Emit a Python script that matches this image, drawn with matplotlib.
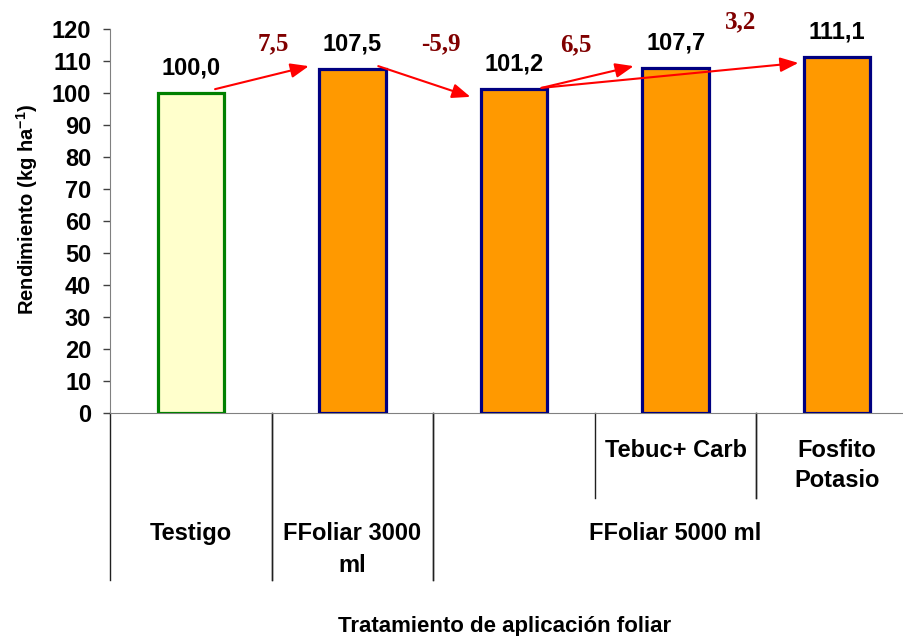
import numpy as np
import matplotlib.pyplot as plt

# ------------------------------------------------------------------ DATA
values = [100.0, 107.5, 101.2, 107.7, 111.1]
inner_labels = ['', '', '', 'Tebuc+ Carb', 'Fosfito\nPotasio']
# outer groups: (label, first bar, last bar)
outer_groups = [('Testigo', 0, 0), ('FFoliar 3000\nml', 1, 1),
                ('FFoliar 5000 ml', 2, 4)]
# differences between treatments (from bar, to bar)
arrow_pairs = [(0, 1), (1, 2), (2, 3), (2, 4)]
diff_labels = ['7,5', '-5,9', '6,5', '3,2']

fill_colors = ['#FFFFCC', '#FF9900', '#FF9900', '#FF9900', '#FF9900']
edge_colors = ['#008000', '#000080', '#000080', '#000080', '#000080']

# ------------------------------------------------------------------ FIGURE
plt.rcParams['font.family'] = ['Liberation Sans', 'DejaVu Sans']
plt.rcParams['mathtext.fontset'] = 'custom'
plt.rcParams['mathtext.rm'] = 'Liberation Sans:bold'
plt.rcParams['mathtext.bf'] = 'Liberation Sans:bold'
fs = 17

fig = plt.figure(figsize=(9.04, 6.36), dpi=100)
fig.patch.set_facecolor('white')
ax = fig.add_axes([0.1217, 0.3506, 0.8938, 0.6038])

x = np.arange(len(values))
ax.bar(x, values, width=0.41, color=fill_colors, edgecolor=edge_colors,
       linewidth=2.3, zorder=3)

ax.set_xlim(-0.5, len(values) - 0.5)
ax.set_ylim(0, 120)
ax.set_yticks(np.arange(0, 121, 10))
ax.tick_params(axis='y', direction='out', length=5, width=1, pad=8.5,
               labelsize=fs, color='#404040')
for lab in ax.get_yticklabels():
    lab.set_fontweight('bold')
ax.set_xticks([])

for s in ['top', 'right']:
    ax.spines[s].set_visible(False)
ax.spines['left'].set_color('#808080')
ax.spines['bottom'].set_color('#808080')

# value labels
for i, v in enumerate(values):
    ax.annotate(f'{v:.1f}'.replace('.', ','), (i, v), xytext=(0, 13.5),
                textcoords='offset points', ha='center', va='baseline',
                fontsize=fs, fontweight='bold')

# ---------------------------------------------------------- DIFF ARROWS
start_dx = [0.15, 0.16, 0.17, 0.17]
start_dy = [1.2, 0.9, 0.4, 0.4]
end_dx = [-0.27, -0.27, -0.26, -0.24]
end_dy = [0.9, -2.4, 0.7, -1.7]
label_pos = [(0.51, 115.3), (1.55, 115.3), (2.38, 115.0), (3.40, 122.2)]

for k, (a, b) in enumerate(arrow_pairs):
    ax.annotate('', xy=(b + end_dx[k], values[b] + end_dy[k]),
                xytext=(a + start_dx[k], values[a] + start_dy[k]),
                arrowprops=dict(arrowstyle='-|>,head_length=0.55,head_width=0.22',
                                mutation_scale=20, color='#FF0000', lw=1.5,
                                shrinkA=0, shrinkB=0),
                annotation_clip=False, zorder=5)
    ax.text(label_pos[k][0], label_pos[k][1], diff_labels[k],
            ha='center', va='center', fontsize=18, fontweight='bold',
            color='#800000', family=['Liberation Serif', 'DejaVu Serif'],
            clip_on=False)

# ---------------------------------------------------- CATEGORY LABELS
trans = ax.get_xaxis_transform()
inner_bottom = -0.221
outer_bottom = -0.435
line_kw = dict(color='#202020', lw=1, transform=trans, clip_on=False)

# inner level
for i, lab in enumerate(inner_labels):
    if lab:
        ax.plot([i - 0.5, i - 0.5], [0, inner_bottom], **line_kw)
        ax.plot([i + 0.5, i + 0.5], [0, inner_bottom], **line_kw)
        ax.text(i, -0.068, lab, transform=trans, ha='center', va='top',
                fontsize=fs, fontweight='bold', linespacing=1.4)

# outer level
for lab, a, b in outer_groups:
    ax.plot([a - 0.5, a - 0.5], [0, outer_bottom], **line_kw)
    ax.plot([b + 0.5, b + 0.5], [0, outer_bottom], **line_kw)
    ax.text((a + b) / 2, -0.284, lab, transform=trans, ha='center',
            va='top', fontsize=fs, fontweight='bold', linespacing=1.5)

fig.text(0.558, 1 - 632 / 636, 'Tratamiento de aplicación foliar',
         ha='center', va='baseline', fontsize=16, fontweight='bold')
fig.text(0.030, 1 - 209 / 636, r'Rendimiento (kg ha$^{\mathbf{-1}}$)',
         ha='center', va='center', rotation=90, fontsize=14.5,
         fontweight='bold')

fig.savefig('out.png', dpi=100)
